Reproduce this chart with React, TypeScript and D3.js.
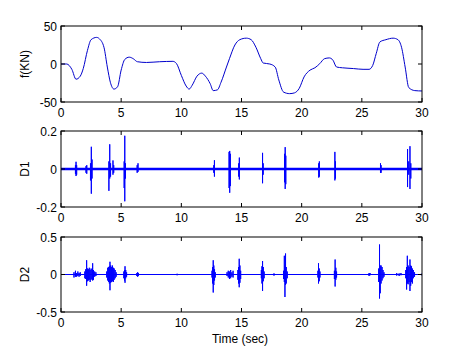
import React from "react";
import * as d3 from "d3";

// f(KN) force curve: [time, value]
const forceT = [0,0.47,0.9,1.25,1.6,1.85,2.2,2.5,2.96,3.2,3.57,3.85,4.1,4.4,4.7,5.0,5.3,5.67,6.0,6.35,7.1,8.2,9.3,9.6,10.0,10.4,10.65,10.9,11.3,11.7,12.0,12.4,12.65,13.0,13.3,13.75,14.0,14.45,14.86,15.4,15.8,16.2,16.6,16.8,17.35,17.8,18.1,18.5,19.0,19.4,19.8,20.2,20.7,21.1,21.5,21.9,22.3,22.6,22.9,23.4,24.3,25.1,25.6,25.9,26.2,26.5,27.0,27.6,28.0,28.3,28.6,28.9,29.4,30];
const forceV = [0,0,-7,-20,-16,-6,18,32,35,33,22,-4,-24,-33,-30,-8,6,9,7,3,2,3,3.5,0.5,-15,-29,-33,-28,-16,-12,-16,-26,-35,-34,-24,-4,7,25,32,34,32,22,7,1.3,0,-4,-21,-37,-39,-38,-32,-17,-8,-5,0.4,7,8,5,-4,-5,-6,-7,-7,-2,14,29,32,34,32,22,-4,-31,-35,-35.5];

// D1 detail spikes: [time, max, min]
const d1Spikes: [number, number, number][] = [
  [1.2,0.02,-0.025],[1.25,0.038,-0.037],[1.3,0.02,-0.03],
  [2.08,0.015,-0.02],[2.14,0.02,-0.025],
  [2.45,0.03,-0.06],[2.52,0.117,-0.13],[2.58,0.05,-0.05],
  [3.98,0.04,-0.115],[4.05,0.13,-0.05],[4.12,0.03,-0.04],
  [4.32,0.045,-0.03],[4.38,0.02,-0.02],
  [5.25,0.04,-0.1],[5.3,0.175,-0.17],[5.36,0.03,-0.05],
  [6.33,0.02,-0.02],[6.4,0.03,-0.015],
  [12.7,0.02,-0.02],[12.75,0.046,-0.04],
  [13.97,0.09,-0.1],[14.02,0.095,-0.125],[14.07,0.08,-0.09],
  [14.77,0.03,-0.04],[14.82,0.06,-0.055],
  [16.75,0.085,-0.075],[16.8,0.03,-0.03],
  [18.58,0.08,-0.07],[18.63,0.115,-0.105],[18.68,0.07,-0.08],
  [21.42,0.03,-0.045],[21.47,0.04,-0.04],
  [22.76,0.09,-0.06],[22.81,0.04,-0.05],
  [26.55,0.03,-0.02],[26.6,0.02,-0.02],
  [28.8,0.105,-0.095],[28.9,0.04,-0.03],[29.0,0.12,-0.105],[29.07,0.03,-0.05],
];

// D2 detail spikes: [time, max, min]
const d2Spikes: [number, number, number][] = [
  [1.08,0.03,-0.04],[1.2,0.05,-0.03],[1.3,0.02,-0.03],[1.4,0.04,-0.02],[1.5,0.02,-0.03],[1.6,0.03,-0.02],
  [1.98,0.04,-0.05],[2.05,0.07,-0.06],[2.13,0.19,-0.15],[2.2,0.08,-0.09],[2.28,0.07,-0.08],[2.35,0.09,-0.07],[2.42,0.06,-0.1],[2.5,0.08,-0.07],[2.58,0.07,-0.06],[2.63,0.15,-0.08],[2.7,0.06,-0.07],[2.8,0.04,-0.03],[2.9,0.03,-0.02],
  [3.8,0.04,-0.04],[3.88,0.09,-0.08],[3.95,0.1,-0.1],[4.02,0.11,-0.12],[4.07,0.17,-0.21],[4.13,0.12,-0.11],[4.2,0.1,-0.1],[4.27,0.12,-0.09],[4.35,0.09,-0.1],[4.42,0.08,-0.07],[4.5,0.06,-0.05],[4.58,0.03,-0.03],
  [5.22,0.04,-0.05],[5.28,0.06,-0.08],[5.32,0.11,-0.11],[5.38,0.06,-0.05],[5.45,0.03,-0.03],
  [6.3,0.02,-0.02],[6.37,0.03,-0.03],[6.43,0.02,-0.02],
  [9.65,0.01,-0.01],
  [12.55,0.05,-0.04],[12.6,0.1,-0.12],[12.65,0.19,-0.24],[12.7,0.12,-0.14],[12.76,0.07,-0.08],[12.82,0.03,-0.04],
  [13.8,0.03,-0.02],[13.9,0.05,-0.04],[14.0,0.04,-0.06],[14.1,0.06,-0.05],[14.2,0.03,-0.03],[14.3,0.05,-0.04],
  [14.7,0.06,-0.07],[14.76,0.1,-0.12],[14.81,0.21,-0.17],[14.87,0.12,-0.11],[14.93,0.05,-0.06],
  [16.65,0.06,-0.05],[16.7,0.11,-0.12],[16.75,0.18,-0.22],[16.81,0.1,-0.09],[16.88,0.04,-0.05],
  [17.7,0.015,-0.015],
  [18.5,0.05,-0.06],[18.56,0.25,-0.1],[18.61,0.12,-0.3],[18.66,0.28,-0.14],[18.72,0.1,-0.12],[18.8,0.04,-0.05],
  [21.35,0.05,-0.04],[21.4,0.15,-0.12],[21.46,0.08,-0.09],[21.52,0.04,-0.04],
  [22.72,0.05,-0.06],[22.78,0.2,-0.16],[22.84,0.09,-0.07],[22.9,0.04,-0.04],
  [25.6,0.02,-0.02],[25.68,0.02,-0.01],
  [26.4,0.08,-0.1],[26.47,0.4,-0.32],[26.53,0.12,-0.25],[26.6,0.12,-0.12],[26.68,0.1,-0.08],[26.76,0.06,-0.05],[26.84,0.03,-0.03],
  [27.9,0.02,-0.015],[28.1,0.015,-0.02],[28.25,0.02,-0.01],
  [28.65,0.06,-0.05],[28.72,0.1,-0.2],[28.78,0.25,-0.12],[28.85,0.12,-0.13],[28.92,0.1,-0.1],[29.0,0.2,-0.22],[29.06,0.12,-0.15],[29.13,0.11,-0.1],[29.2,0.08,-0.12],[29.28,0.06,-0.05],[29.38,0.03,-0.03],
  [29.95,0.01,-0.01],
];

const xTicks = [0, 5, 10, 15, 20, 25, 30];
const fTicks = [-50, 0, 50];
const d1Ticks = [-0.2, 0, 0.2];
const d2Ticks = [-0.5, 0, 0.5];

const W = 466, H = 351;
const L = 61, R = 422;
const FONT = "Liberation Sans, Arial, Helvetica, sans-serif";

function spikePoints(sp: [number, number, number][]): [number, number][] {
  const pts: [number, number][] = [[0, 0]];
  sp.forEach(([t, hi, lo]) => { pts.push([t, 0], [t, hi], [t, lo], [t, 0]); });
  pts.push([30, 0]);
  return pts;
}

function Axes({ top, bottom, yDomain, yTicks, label, children, fmt }: any) {
  const x = d3.scaleLinear().domain([0, 30]).range([L, R]);
  const y = d3.scaleLinear().domain(yDomain).range([bottom, top]);
  const tl = 4;
  return (
    <g>
      {children(x, y)}
      <rect x={L} y={top} width={R - L} height={bottom - top} fill="none" stroke="#000" strokeWidth={1} />
      {xTicks.map((t) => (
        <g key={"x" + t}>
          <line x1={x(t)} x2={x(t)} y1={bottom} y2={bottom - tl} stroke="#000" />
          <line x1={x(t)} x2={x(t)} y1={top} y2={top + tl} stroke="#000" />
          <text x={x(t)} y={bottom + 15} textAnchor="middle" fontSize={12} fontFamily={FONT}>{t}</text>
        </g>
      ))}
      {yTicks.map((t: number) => (
        <g key={"y" + t}>
          <line x1={L} x2={L + tl} y1={y(t)} y2={y(t)} stroke="#000" />
          <line x1={R} x2={R - tl} y1={y(t)} y2={y(t)} stroke="#000" />
          <text x={L - 4} y={y(t) + 4.5} textAnchor="end" fontSize={12} fontFamily={FONT}>{fmt(t)}</text>
        </g>
      ))}
      <text transform={`translate(29,${(top + bottom) / 2}) rotate(-90)`} textAnchor="middle" fontSize={12} fontFamily={FONT}>{label}</text>
    </g>
  );
}

export default function App() {
  const forceData = forceT.map((t, i) => [t, forceV[i]] as [number, number]);
  return (
    <svg width={W} height={H} style={{ position: "absolute", left: 0, top: 0, background: "#fff" }}>
      <rect width={W} height={H} fill="#fff" />
      <Axes top={26} bottom={102} yDomain={[-50, 50]} yTicks={fTicks} label="f(KN)" fmt={(v: number) => String(v)}>
        {(x: any, y: any) => {
          const line = d3.line<[number, number]>().x((d) => x(d[0])).y((d) => y(d[1])).curve(d3.curveMonotoneX);
          return <path d={line(forceData) || ""} fill="none" stroke="#0000cc" strokeWidth={1} />;
        }}
      </Axes>
      <Axes top={131} bottom={207} yDomain={[-0.2, 0.2]} yTicks={d1Ticks} label="D1" fmt={(v: number) => String(v)}>
        {(x: any, y: any) => {
          const line = d3.line<[number, number]>().x((d) => x(d[0])).y((d) => y(d[1]));
          return (
            <g>
              <line x1={x(0)} x2={x(30)} y1={y(0)} y2={y(0)} stroke="#0000ff" strokeWidth={2.6} />
              <path d={line(spikePoints(d1Spikes)) || ""} fill="none" stroke="#0000ff" strokeWidth={1} />
            </g>
          );
        }}
      </Axes>
      <Axes top={237} bottom={312} yDomain={[-0.5, 0.5]} yTicks={d2Ticks} label="D2" fmt={(v: number) => String(v)}>
        {(x: any, y: any) => {
          const line = d3.line<[number, number]>().x((d) => x(d[0])).y((d) => y(d[1]));
          return <path d={line(spikePoints(d2Spikes)) || ""} fill="none" stroke="#0000ff" strokeWidth={1} />;
        }}
      </Axes>
      <text x={240} y={343} textAnchor="middle" fontSize={12} fontFamily={FONT}>Time (sec)</text>
    </svg>
  );
}
